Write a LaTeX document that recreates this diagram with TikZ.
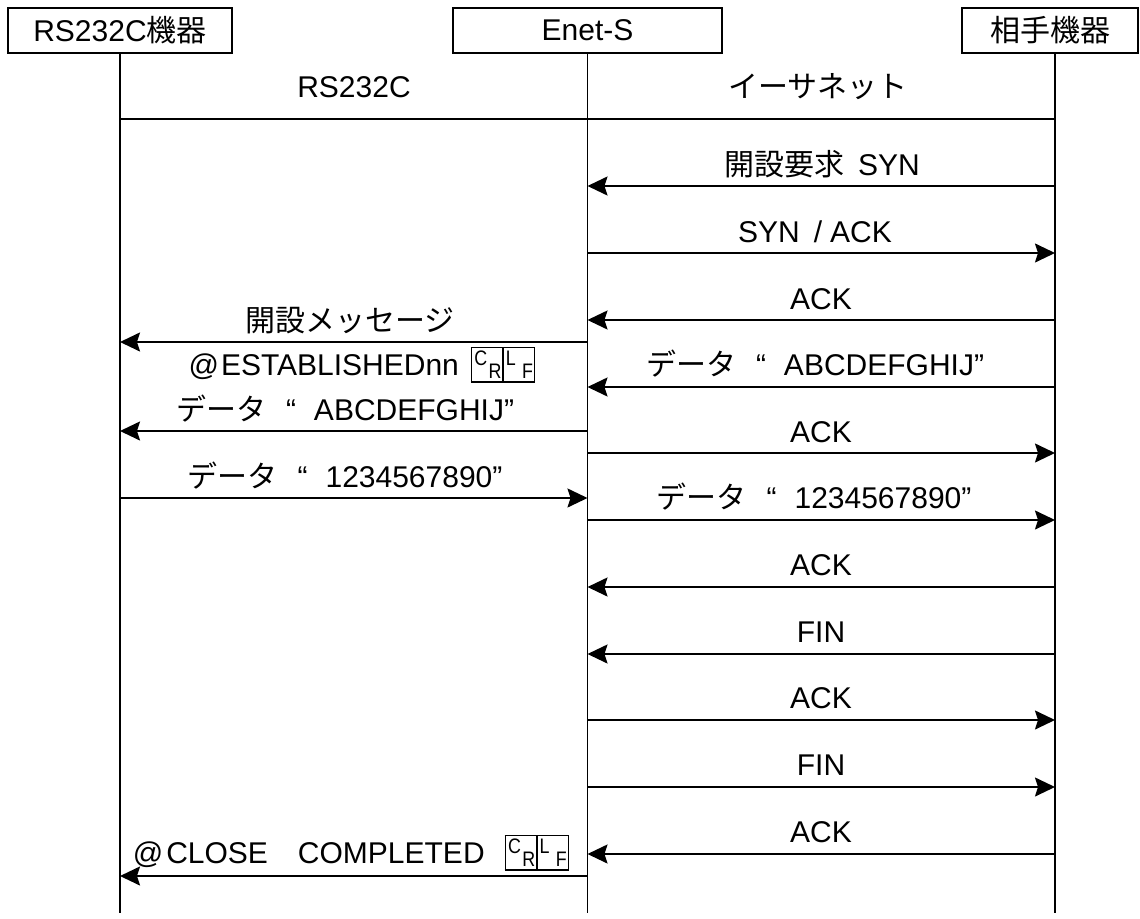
\documentclass[tikz,border=0pt]{standalone}
\usepackage{fontspec}
\usepackage{graphicx}
\setmainfont{Liberation Sans}
\newfontfamily\jp{Noto Sans CJK JP}
\usetikzlibrary{arrows.meta,calc}
\newcommand\crlfcell[2]{\fbox{\rule[-6pt]{0pt}{33pt}\makebox[30pt]{\fontsize{21}{21}\selectfont\hspace{2pt}\raisebox{10pt}{\scalebox{0.85}[1]{#1}}\hfill\raisebox{-3pt}{\scalebox{0.85}[1]{#2}}\hspace{1pt}}}}
\newcommand\crlfbox{\begingroup\setlength\fboxsep{0pt}\setlength\fboxrule{1.5pt}\crlfcell{C}{R}\hspace{-1.5pt}\crlfcell{L}{F}\endgroup}
\begin{document}
\begin{tikzpicture}[x=1pt,y=-1pt,line width=1.7pt,
  msg/.style={-{Stealth[length=20pt,width=19pt,inset=3pt]}},
  box/.style={draw,minimum height=45pt,inner sep=0pt,font=\fontsize{30}{36}\selectfont},
  lbl/.style={inner sep=0pt,anchor=base,font=\fontsize{30}{36}\selectfont}]
\useasboundingbox (0,0) rectangle (1140,918);
\fill[white] (0,0) rectangle (1140,918);
% participants
\node[box,minimum width=224pt] (devA) at (120,30.5) {RS232C{\jp 機器}};
\node[box,minimum width=269pt] (enet) at (587.5,30.5) {Enet-S};
\node[box,minimum width=176pt] (devB) at (1050,30.5) {{\jp 相手機器}};
\coordinate (LA) at (devA.south);
\coordinate (LE) at (enet.south);
\coordinate (LB) at (1055,53);
\coordinate (bottom) at (0,913);
\draw (LA) -- (LA |- bottom);
\draw (LE) -- (LE |- bottom);
\draw (LB) -- (LB |- bottom);
% rows
\foreach \n/\y in {sep/119,r1/186,r2/253,r3/320,r4/387,r5/453,r6/520,r7/587,r8/654,r9/720,r10/787,r11/854,l1/342,l2/431,l3/498,l4/876}
  \coordinate (\n) at (0,\y);
\draw (LA |- sep) -- (LB |- sep);
\node[lbl] (tA) at (354,97) {RS232C};
\node[lbl] (tB) at (818,97) {\jp イーサネット};
% Ethernet side
\draw[msg] (LB |- r1) -- (LE |- r1);
\draw[msg] (LE |- r2) -- (LB |- r2);
\draw[msg] (LB |- r3) -- (LE |- r3);
\draw[msg] (LB |- r4) -- (LE |- r4);
\draw[msg] (LE |- r5) -- (LB |- r5);
\draw[msg] (LE |- r6) -- (LB |- r6);
\draw[msg] (LB |- r7) -- (LE |- r7);
\draw[msg] (LB |- r8) -- (LE |- r8);
\draw[msg] (LE |- r9) -- (LB |- r9);
\draw[msg] (LE |- r10) -- (LB |- r10);
\draw[msg] (LB |- r11) -- (LE |- r11);
\node[lbl] (m1) at (822,175) {{\jp 開設要求}\hspace{14pt}SYN};
\node[lbl] (m2) at (815,242) {SYN\hspace{14pt}/\hspace{8pt}ACK};
\node[lbl] (m3) at (821,309) {ACK};
\node[lbl] (m4) at (815,375) {{\jp データ}\hspace{20pt}“\hspace{18pt}ABCDEFGHIJ”};
\node[lbl] (m5) at (821,442) {ACK};
\node[lbl] (m6) at (814,508) {{\jp データ}\hspace{20pt}“\hspace{18pt}1234567890”};
\node[lbl] (m7) at (821,575) {ACK};
\node[lbl] (m8) at (821,642) {FIN};
\node[lbl] (m9) at (821,708) {ACK};
\node[lbl] (m10) at (821,775) {FIN};
\node[lbl] (m11) at (821,842) {ACK};
% RS232C side
\draw[msg] (LE |- l1) -- (LA |- l1);
\draw[msg] (LE |- l2) -- (LA |- l2);
\draw[msg] (LA |- l3) -- (LE |- l3);
\draw[msg] (LE |- l4) -- (LA |- l4);
\node[lbl] (s1) at (350,331) {\jp 開設メッセージ};
\node[lbl] (s1b) at (362,375) {@\hspace{2pt}ESTABLISHEDnn\hspace{12pt}\crlfbox};
\node[lbl] (s2) at (345,420) {{\jp データ}\hspace{20pt}“\hspace{18pt}ABCDEFGHIJ”};
\node[lbl] (s3) at (345,487) {{\jp データ}\hspace{20pt}“\hspace{18pt}1234567890”};
\node[lbl] (s4) at (351,863) {@\hspace{3pt}CLOSE\hspace{30pt}COMPLETED\hspace{20pt}\crlfbox};
\end{tikzpicture}
\end{document}
